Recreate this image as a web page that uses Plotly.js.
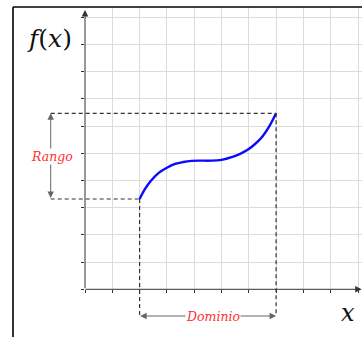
<!DOCTYPE html>
<html>
<head>
<meta charset="utf-8">
<script src="https://cdn.plot.ly/plotly-3.0.1.min.js"></script>
<style>
  html, body { margin: 0; padding: 0; background: #fff; }
  #plotlyArea { width: 362px; height: 337px; }
</style>
</head>
<body>
<div id="plotlyArea"></div>
<script>
// curve
var curveX = [2, 2.2, 2.4, 2.7, 3, 3.3, 3.6, 3.9, 4.2, 4.6, 5, 5.4, 5.7, 6, 6.25, 6.5, 6.75, 7];
var curveY = [3.32, 3.69, 3.97, 4.28, 4.47, 4.61, 4.68, 4.72, 4.73, 4.73, 4.76, 4.87, 4.99, 5.16, 5.36, 5.62, 5.99, 6.47];
var labels = ['Rango', 'Dominio'];

// page geometry (pixels)
var W = 362, H = 337;
var OX = 85, OY = 289.3;      // origin
var SX = 27.3, SY = 27.2;     // px per unit
var TOP = 7, LEFT = 13;       // frame

var xStart = curveX[0], xEnd = curveX[curveX.length - 1];
var yStart = curveY[0], yEnd = curveY[curveY.length - 1];
var xRango = (50.7 - OX) / SX;
var yDom = (OY - 316) / SY;

var ink = '#333';
var dash = {color: ink, width: 1.2, dash: '4px,3px'};

var shapes = [
    // frame
    {type: 'line', xref: 'paper', yref: 'paper', x0: LEFT / W, x1: LEFT / W, y0: 0, y1: (H - TOP) / H, line: {color: '#000', width: 1.6}},
    {type: 'line', xref: 'paper', yref: 'paper', x0: LEFT / W, x1: 1, y0: (H - TOP) / H, y1: (H - TOP) / H, line: {color: '#000', width: 1.6}},
    // dashed guides
    {type: 'line', xref: 'x2', yref: 'y2', x0: xRango, x1: xEnd, y0: yEnd, y1: yEnd, line: dash},
    {type: 'line', xref: 'x2', yref: 'y2', x0: xRango, x1: xStart, y0: yStart, y1: yStart, line: dash},
    {type: 'line', xref: 'x2', yref: 'y2', x0: xStart, x1: xStart, y0: yStart, y1: yDom, line: dash},
    {type: 'line', xref: 'x2', yref: 'y2', x0: xEnd, x1: xEnd, y0: yEnd, y1: yDom, line: dash}
];

function arrow(x0, y0, x1, y1, color, side) {
    return {
        x: x1, y: y1, ax: x0, ay: y0,
        xref: 'x2', yref: 'y2', axref: 'x2', ayref: 'y2',
        text: ' ', font: {size: 1}, borderpad: 0,
        showarrow: true, arrowhead: 2, arrowsize: 1.3, arrowwidth: 1,
        arrowcolor: color, arrowside: side, standoff: 0, startstandoff: 0
    };
}

var serif = 'DejaVu Serif, Liberation Serif, serif';
var red = {family: serif, size: 12.5, color: '#ff3030', style: 'italic'};
var annotations = [
    // axes
    arrow(0, 0, 0, (OY - 10) / SY, ink, 'end'),
    arrow(0, 0, (361.7 - OX) / SX, 0, ink, 'end'),
    // range and domain arrows
    arrow(xRango, yStart, xRango, yEnd, '#666', 'end+start'),
    arrow(xStart, yDom, xEnd, yDom, '#666', 'end+start'),
    {x: xRango + 0.05, y: (yStart + yEnd) / 2, xref: 'x2', yref: 'y2', text: labels[0], showarrow: false,
     bgcolor: '#fff', borderpad: 0, font: red},
    {x: 4.7, y: yDom, xref: 'x2', yref: 'y2', text: labels[1], showarrow: false,
     bgcolor: '#fff', borderpad: 0, font: red},
    // axis names
    {x: (49 - OX) / SX, y: (OY - 38) / SY, xref: 'x2', yref: 'y2', text: '<i>f</i>(<i>x</i>)', showarrow: false,
     font: {family: serif, size: 25, color: '#111'}},
    {x: (348 - OX) / SX, y: (OY - 313) / SY, xref: 'x2', yref: 'y2', text: '<i>x</i>', showarrow: false,
     font: {family: serif, size: 24, color: '#111'}}
];

var trace = {
    x: curveX,
    y: curveY,
    mode: 'lines',
    type: 'scatter',
    line: {color: '#0a0aff', width: 2.4, shape: 'spline', smoothing: 1},
    hoverinfo: 'skip'
};

var gridAxis = {
    showgrid: true, gridcolor: '#dcdcdc', gridwidth: 1,
    dtick: 1, tick0: 0, ticks: 'outside', ticklen: 3, tickcolor: ink, tickwidth: 1,
    showticklabels: false, zeroline: false, showline: false, fixedrange: true
};

var layout = {
    width: W, height: H,
    margin: {l: 0, r: 0, t: 0, b: 0, pad: 0},
    paper_bgcolor: '#fff',
    plot_bgcolor: 'rgba(0,0,0,0)',
    showlegend: false,
    xaxis: Object.assign({}, gridAxis, {domain: [OX / W, 1], range: [0, (W - OX) / SX], anchor: 'y'}),
    yaxis: Object.assign({}, gridAxis, {domain: [(H - OY) / H, (H - TOP) / H], range: [0, (OY - TOP) / SY], anchor: 'x'}),
    xaxis2: {domain: [0, 1], range: [-OX / SX, (W - OX) / SX], anchor: 'y2', visible: false, fixedrange: true},
    yaxis2: {domain: [0, 1], range: [-(H - OY) / SY, OY / SY], anchor: 'x2', visible: false, fixedrange: true},
    shapes: shapes,
    annotations: annotations
};

Plotly.newPlot('plotlyArea', [trace], layout, {displayModeBar: false, staticPlot: true});
</script>
</body>
</html>
